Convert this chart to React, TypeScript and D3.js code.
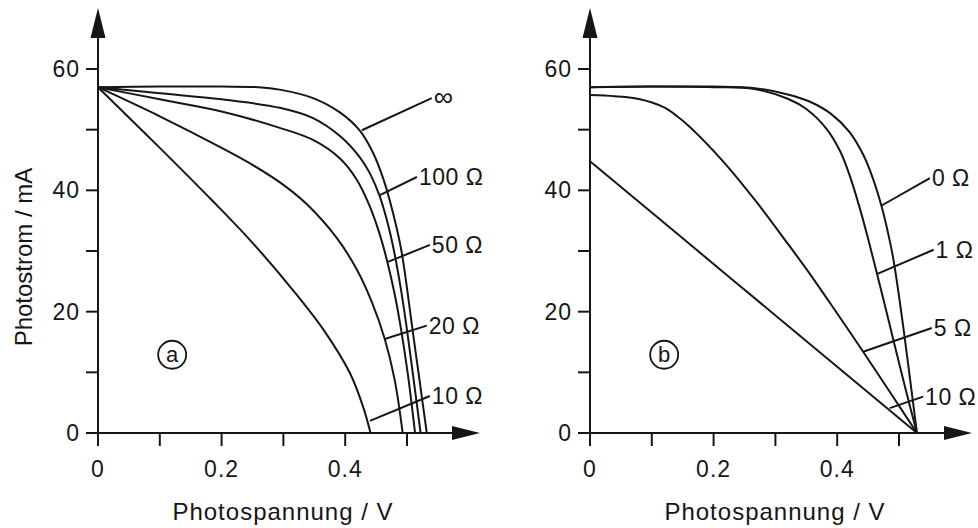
import React from 'react';
import * as d3 from 'd3';

// Photostrom-Kennlinien, Punkte als [Spannung V, Strom mA]

// (a) Parallelwiderstand
const aInf = [[0, 57], [0.1, 57.1], [0.2, 57.1], [0.26, 57], [0.294, 56.6], [0.348, 55.2], [0.392, 52.8], [0.424, 49.8], [0.445, 46.2], [0.462, 41.8], [0.478, 36], [0.491, 30], [0.509, 17], [0.52, 8.9], [0.532, 0]];
const a100 = [[0, 57], [0.1, 56], [0.2, 55], [0.294, 53.6], [0.348, 51.9], [0.392, 48.9], [0.424, 45.4], [0.44, 42.8], [0.456, 39], [0.47, 34.1], [0.478, 30.5], [0.49, 23.8], [0.5, 17], [0.511, 8.6], [0.522, 0]];
const a50 = [[0, 57], [0.1, 55], [0.2, 53], [0.294, 50.3], [0.348, 48.3], [0.392, 45.2], [0.419, 41.7], [0.44, 37.3], [0.456, 32.7], [0.467, 28.7], [0.48, 22.9], [0.491, 16.7], [0.502, 9.2], [0.513, 0]];
const a20 = [[0, 57], [0.1, 52.2], [0.2, 47], [0.25, 44.2], [0.3, 40.9], [0.338, 37.7], [0.386, 32.2], [0.419, 26.9], [0.443, 21.6], [0.464, 15.5], [0.48, 8.8], [0.493, 0]];
const a10 = [[0, 57], [0.1, 47], [0.184, 38.4], [0.246, 31.8], [0.311, 24.1], [0.365, 17], [0.408, 9.8], [0.429, 4.3], [0.441, 0]];

// (b) Serienwiderstand
const b0 = [[0, 57], [0.1, 57.1], [0.2, 57.1], [0.27, 56.8], [0.32, 55.8], [0.356, 54.6], [0.39, 52.6], [0.42, 49.6], [0.442, 45.9], [0.458, 41.9], [0.472, 37.3], [0.482, 33.1], [0.491, 28.6], [0.507, 17.4], [0.518, 8.8], [0.529, 0]];
const b1 = [[0, 57], [0.1, 57.1], [0.2, 57], [0.266, 56.7], [0.32, 55.1], [0.35, 53.4], [0.383, 50.1], [0.405, 46.4], [0.42, 42.5], [0.437, 36.9], [0.45, 32], [0.464, 26.4], [0.478, 20.7], [0.491, 15.3], [0.51, 7.5], [0.529, 0]];
const b5 = [[0, 55.7], [0.04, 55.5], [0.081, 55], [0.119, 53.7], [0.14, 52.3], [0.162, 50.4], [0.216, 44.7], [0.27, 38], [0.32, 31.2], [0.356, 26.2], [0.4, 19.7], [0.442, 13.4], [0.485, 6.8], [0.529, 0]];
const b10 = [[0, 44.8], [0.229, 25.4], [0.529, 0]];

// Beschriftungen: Text, Punkt auf der Kurve, Ende der Hinweislinie
const aLabels = [
  { text: '∞', from: [0.427, 49.9], to: [0.54, 55.2] },
  { text: '100 Ω', from: [0.456, 39.2], to: [0.516, 42.2] },
  { text: '50 Ω', from: [0.469, 28.2], to: [0.537, 31.0] },
  { text: '20 Ω', from: [0.464, 15.5], to: [0.532, 17.7] },
  { text: '10 Ω', from: [0.44, 2.0], to: [0.537, 6.1] },
];
const bLabels = [
  { text: '0 Ω', from: [0.472, 37.5], to: [0.55, 42.0] },
  { text: '1 Ω', from: [0.464, 26.2], to: [0.556, 30.2] },
  { text: '5 Ω', from: [0.442, 13.4], to: [0.553, 17.3] },
  { text: '10 Ω', from: [0.485, 4.1], to: [0.539, 6.0] },
];

const xTicks = [0, 0.1, 0.2, 0.3, 0.4, 0.5];
const xTickLabels = ['0', '', '0.2', '', '0.4', ''];
const yTicks = [0, 10, 20, 30, 40, 50, 60];
const yTickLabels = ['0', '', '20', '', '40', '', '60'];

const FONT = '"Liberation Sans", Arial, Helvetica, sans-serif';
const INK = '#161616';

const Panel = ({ x0, curves, labels, tag }) => {
  const x = d3.scaleLinear().domain([0, 0.5]).range([x0, x0 + 309]);
  const y = d3.scaleLinear().domain([0, 60]).range([433, 69]);
  const line = d3.line().x(d => x(d[0])).y(d => y(d[1])).curve(d3.curveCatmullRom.alpha(0.5));
  const ax = x(0), ay = y(0);
  const xEnd = x0 + 354, xTip = x0 + 382;

  return (
    <g>
      {/* axes */}
      <line x1={ax} y1={ay} x2={ax} y2={38} stroke={INK} strokeWidth={2} />
      <polygon points={`${ax},8 ${ax - 7.5},38 ${ax + 7.5},38`} fill={INK} />
      <line x1={ax} y1={ay} x2={xEnd} y2={ay} stroke={INK} strokeWidth={2} />
      <polygon points={`${xTip},${ay} ${xEnd},${ay - 7} ${xEnd},${ay + 7}`} fill={INK} />

      {xTicks.map((t, i) => (
        <g key={'x' + i}>
          <line x1={x(t)} x2={x(t)} y1={ay} y2={ay + 13} stroke={INK} strokeWidth={2} />
          {xTickLabels[i] && (
            <text x={x(t)} y={ay + 44} textAnchor="middle" fontSize={23} letterSpacing={1} fill={INK}>{xTickLabels[i]}</text>
          )}
        </g>
      ))}
      {yTicks.map((t, i) => (
        <g key={'y' + i}>
          <line x1={ax - 12} x2={ax} y1={y(t)} y2={y(t)} stroke={INK} strokeWidth={2} />
          {yTickLabels[i] && (
            <text x={ax - 18} y={y(t) + 8} textAnchor="end" fontSize={23} letterSpacing={1} fill={INK}>{yTickLabels[i]}</text>
          )}
        </g>
      ))}

      {/* curves */}
      {curves.map((c, i) => (
        <path key={'c' + i} d={line(c)} fill="none" stroke={INK} strokeWidth={2} />
      ))}

      {/* leader lines + labels */}
      {labels.map((l, i) => (
        <g key={'l' + i}>
          <line x1={x(l.from[0])} y1={y(l.from[1])} x2={x(l.to[0])} y2={y(l.to[1])} stroke={INK} strokeWidth={2} />
          <text x={x(l.to[0]) + 2} y={y(l.to[1]) + 8} fontSize={l.text === '∞' ? 27 : 23} letterSpacing={0.5} fill={INK}>{l.text}</text>
        </g>
      ))}

      {/* circled tag */}
      <circle cx={x(0.12)} cy={y(12.9)} r={14} fill="none" stroke={INK} strokeWidth={1.8} />
      <text x={x(0.12)} y={y(12.9) + 7.5} textAnchor="middle" fontSize={22} fill={INK}>{tag}</text>

      <text x={ax + 185} y={520} textAnchor="middle" fontSize={24} letterSpacing={1} fill={INK}>Photospannung / V</text>
    </g>
  );
};

export default function App() {
  return (
    <svg width={978} height={528} style={{ position: 'absolute', left: 0, top: 0, background: '#fff' }} fontFamily={FONT}>
      <rect width={978} height={528} fill="#fff" />
      <text transform="translate(32,257) rotate(-90)" textAnchor="middle" fontSize={24} fill={INK}>Photostrom / mA</text>
      <Panel x0={98} curves={[aInf, a100, a50, a20, a10]} labels={aLabels} tag="a" />
      <Panel x0={590} curves={[b0, b1, b5, b10]} labels={bLabels} tag="b" />
    </svg>
  );
}
